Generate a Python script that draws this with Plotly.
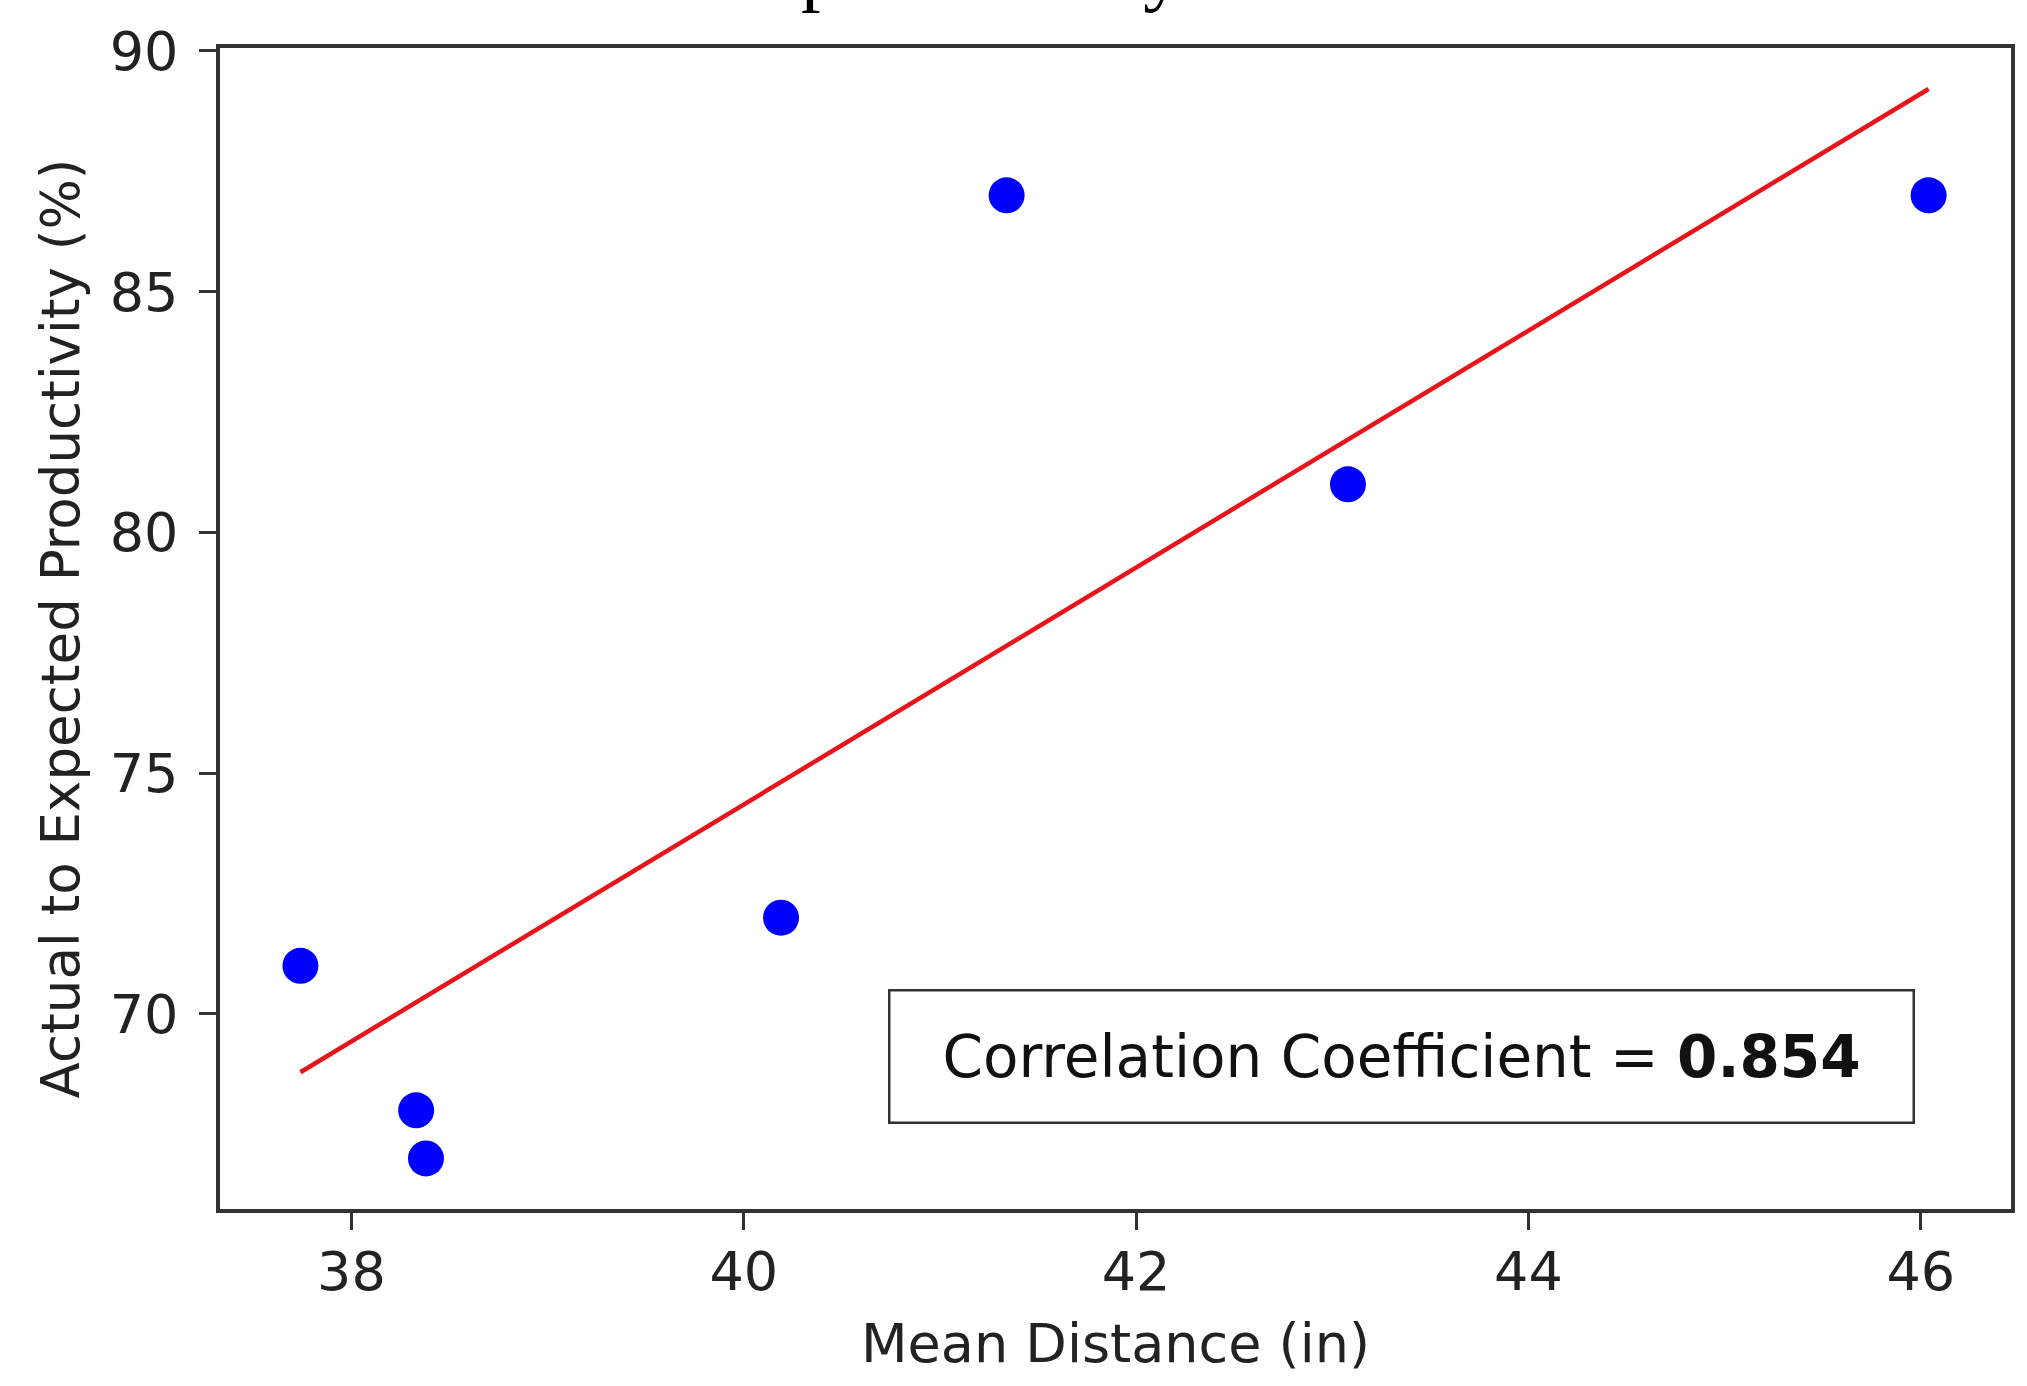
import numpy as np
import plotly.graph_objects as go

# Data
mean_distance = [37.74, 38.33, 38.38, 40.19, 41.34, 43.08, 46.04]
productivity = [71, 68, 67, 72, 87, 81, 87]
x_ticks = [38, 40, 42, 44, 46]
y_ticks = [70, 75, 80, 85, 90]
corr_label = "0.854"

slope, intercept = np.polyfit(mean_distance, productivity, 1)
fit_x = [min(mean_distance), max(mean_distance)]
fit_y = [slope * v + intercept for v in fit_x]

fig = go.Figure()
fig.add_trace(go.Scatter(
    x=fit_x, y=fit_y, mode="lines",
    line=dict(color="#e8141b", width=4.5),
    showlegend=False, hoverinfo="skip",
))
fig.add_trace(go.Scatter(
    x=mean_distance, y=productivity, mode="markers",
    marker=dict(color="#0000ff", size=36, line=dict(width=0)),
    showlegend=False,
))

axis_common = dict(
    showline=True, linecolor="#333333", linewidth=3.5, mirror=True,
    ticks="outside", ticklen=17, tickwidth=2.5, tickcolor="#333333",
    showgrid=False, zeroline=False,
    tickfont=dict(family="DejaVu Sans", size=54, color="#222222"),
)

fig.update_layout(
    width=2027, height=1386,
    margin=dict(l=220, r=13, t=48, b=177),
    paper_bgcolor="white", plot_bgcolor="white",
    xaxis=dict(
        range=[37.33, 46.46], tickvals=x_ticks, ticklabelstandoff=-5,
        title=dict(text="Mean Distance (in)", standoff=24,
                   font=dict(family="DejaVu Sans", size=54, color="#222222")),
        **axis_common,
    ),
    yaxis=dict(
        range=[65.95, 90.06], tickvals=y_ticks, ticklabelstandoff=10,
        title=dict(text="Actual to Expected Productivity (%)", standoff=14,
                   font=dict(family="DejaVu Sans", size=53, color="#222222")),
        **axis_common,
    ),
    annotations=[
        dict(
            text="Correlation Coefficient = <b>" + corr_label + "</b>",
            x=0.9465, y=0.131, xref="paper", yref="paper",
            xanchor="right", yanchor="middle", showarrow=False,
            width=966, height=74,
            font=dict(family="DejaVu Sans", size=58, color="#111111"),
            bordercolor="#333333", borderwidth=2.5, borderpad=28,
            bgcolor="white",
        ),
        dict(
            text="productivity.",
            x=0.435, y=1.028, xref="paper", yref="paper",
            xanchor="center", yanchor="bottom", showarrow=False,
            font=dict(family="Liberation Serif", size=78, color="#000000"),
        ),
    ],
)

fig.write_html("out.html", config={"displayModeBar": False},
               post_script="document.body.style.margin='0';")
